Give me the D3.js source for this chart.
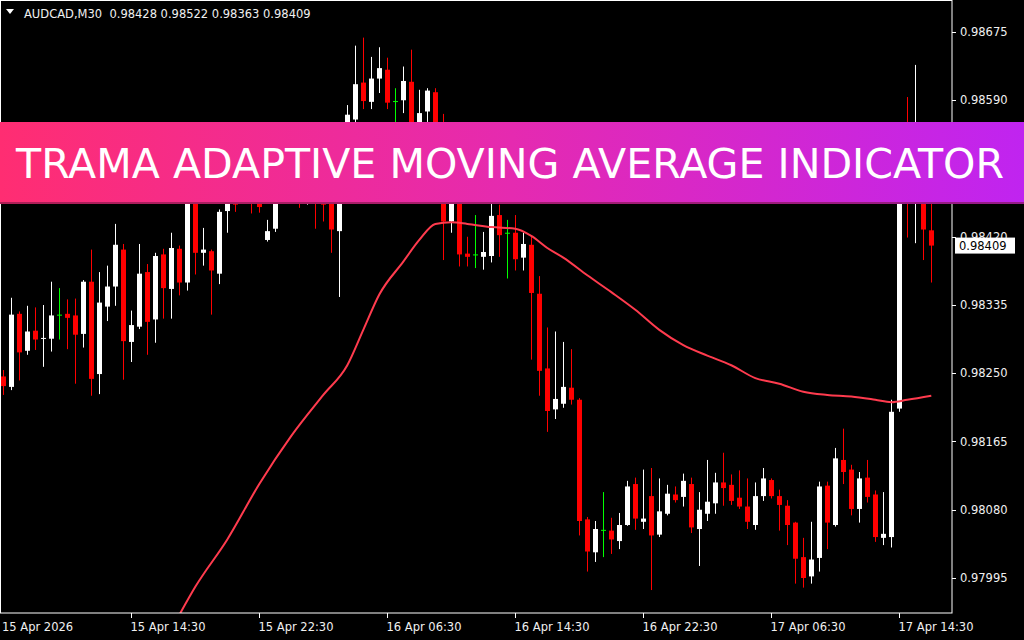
<!DOCTYPE html>
<html>
<head>
<meta charset="utf-8">
<title>AUDCAD M30 - TRAMA</title>
<script src="https://cdn.jsdelivr.net/npm/d3@7"></script>
<style>
  body { margin: 0; background: #000; }
  svg { display: block; background: #000; }
  text { font-family: "DejaVu Sans", "Liberation Sans", sans-serif; }
</style>
</head>
<body>
<svg id="chart" width="1024" height="640"></svg>
<script>
// M30 bars, 15 Apr 06:30 .. 17 Apr 15:30 (prices in 1e-5)
var opens = [98246,98233,98324,98278,98303,98293,98293,98323,98324,98322,98299,98364,98249,98333,98358,98404,98289,98308,98376,98317,
  98398,98355,98405,98363,98472,98400,98402,98374,98452,98497,98472,98491,98472,98416,98430,98472,98497,98485,98466,98491,
  98478,98503,98427,98528,98566,98612,98588,98617,98628,98589,98590,98613,98528,98576,98600,98510,98439,98478,98399,98398,
  98395,98396,98447,98425,98425,98394,98410,98349,98256,98205,98212,98232,98217,98068,98027,98055,98054,98041,98061,98112,
  98065,98097,98049,98075,98099,98096,98112,98056,98075,98088,98114,98111,98095,98084,98061,98097,98117,98097,98085,98064,
  98021,97997,98020,98110,98061,98142,98130,98081,98120,98099,98045,98046,98206,98497,98466,98478,98428];
var highs = [98254,98344,98327,98334,98332,98335,98364,98356,98342,98343,98366,98404,98376,98384,98436,98411,98328,98411,98386,98400,
  98405,98425,98409,98491,98485,98431,98404,98454,98510,98516,98503,98510,98485,98441,98485,98510,98510,98497,98503,98503,
  98497,98516,98541,98584,98658,98668,98644,98656,98643,98605,98632,98653,98603,98605,98605,98573,98503,98491,98420,98447,
  98426,98461,98460,98441,98447,98425,98420,98371,98307,98302,98289,98280,98219,98071,98066,98102,98070,98076,98116,98120,
  98130,98132,98119,98111,98109,98125,98120,98102,98142,98126,98151,98124,98129,98119,98114,98132,98119,98105,98092,98065,
  98045,98065,98115,98115,98157,98181,98136,98127,98142,98104,98102,98217,98541,98594,98634,98503,98522];
var lows = [98223,98229,98241,98273,98279,98258,98277,98292,98280,98237,98282,98222,98224,98315,98334,98242,98264,98305,98273,98288,
  98318,98318,98347,98353,98373,98384,98323,98361,98425,98451,98462,98449,98450,98414,98426,98466,98464,98456,98460,98430,
  98439,98400,98345,98516,98559,98579,98579,98599,98579,98553,98574,98516,98516,98563,98503,98391,98425,98383,98383,98381,
  98379,98388,98395,98368,98378,98378,98267,98222,98177,98193,98207,98211,98048,98003,98015,98021,98025,98031,98060,98055,
  98056,97980,98046,98073,98089,98084,98051,98010,98066,98075,98085,98086,98081,98056,98055,98091,98094,98054,98036,97988,
  97983,97988,98003,98031,98059,98112,98073,98064,98089,98040,98036,98033,98202,98419,98412,98391,98363];
var closes = [98234,98323,98276,98302,98292,98294,98322,98323,98319,98298,98364,98243,98338,98358,98410,98290,98310,98374,98314,98396,
  98356,98406,98363,98478,98400,98404,98378,98451,98491,98460,98491,98466,98457,98427,98472,98497,98472,98466,98485,98466,
  98460,98429,98528,98572,98610,98589,98617,98630,98587,98589,98614,98528,98574,98602,98516,98439,98491,98398,98395,98398,
  98401,98446,98422,98425,98392,98411,98350,98253,98203,98218,98233,98217,98066,98028,98056,98055,98043,98061,98109,98069,
  98069,98048,98078,98100,98092,98116,98058,98080,98090,98114,98107,98091,98084,98065,98097,98119,98097,98086,98061,98019,
  97995,98018,98109,98064,98144,98127,98081,98119,98096,98046,98050,98202,98491,98472,98510,98429,98409];

// TRAMA line, sampled at bar index
var maIndex = [22,24,28,32,36,40,43,45,47,50,52,54,56,58,61,64,66,68,70,73,76,79,82,85,88,91,94,97,100,103,106,109,111,113,116];
var maValues = [97949,97984,98043,98112,98172,98223,98260,98304,98348,98389,98416,98436,98438,98436,98432,98430,98421,98406,98394,98372,
  98351,98329,98304,98285,98272,98260,98244,98237,98227,98223,98221,98217,98214,98217,98222];

var priceTicks = [0.98675, 0.98590, 0.98505, 0.98420, 0.98335, 0.98250, 0.98165, 0.98080, 0.97995];
var timeLabels = ["15 Apr 2026", "15 Apr 14:30", "15 Apr 22:30", "16 Apr 06:30", "16 Apr 14:30", "16 Apr 22:30", "17 Apr 06:30", "17 Apr 14:30"];
var timeIndex = [0, 16, 32, 48, 64, 80, 96, 112];

var svg = d3.select("#chart");
var W = 952, H = 613;

var x = d3.scaleLinear().domain([0, 116]).range([3.3, 931.3]);
var y = d3.scaleLinear().domain([0.97995, 0.98675]).range([578, 32]);
var p = function(v){ return y(v / 100000); };

var plot = svg.append("g");
plot.append("defs").append("clipPath").attr("id", "clip")
  .append("rect").attr("x", 0).attr("y", 0).attr("width", W).attr("height", H);
var marks = plot.append("g").attr("clip-path", "url(#clip)");

var bars = d3.range(opens.length).map(function(i){
  return {i: i, o: opens[i], h: highs[i], l: lows[i], c: closes[i]};
});
var col = function(d){ return d.c > d.o ? "#ffffff" : (d.c < d.o ? "#ff0000" : "#00ff00"); };

marks.selectAll("line.wick").data(bars).enter().append("line")
  .attr("x1", function(d){ return Math.round(x(d.i)) + 0.5; })
  .attr("x2", function(d){ return Math.round(x(d.i)) + 0.5; })
  .attr("y1", function(d){ return p(d.h); })
  .attr("y2", function(d){ return p(d.l); })
  .attr("stroke", col).attr("stroke-width", 1);

marks.selectAll("rect.body").data(bars).enter().append("rect")
  .attr("x", function(d){ return Math.round(x(d.i)) - 2; })
  .attr("width", 5)
  .attr("y", function(d){ return Math.min(p(d.o), p(d.c)); })
  .attr("height", function(d){ return Math.max(1, Math.abs(p(d.o) - p(d.c))); })
  .attr("fill", col);

var ma = maIndex.map(function(v, k){ return [x(v), p(maValues[k])]; });
marks.append("path").datum(ma)
  .attr("d", d3.line().curve(d3.curveMonotoneX))
  .attr("fill", "none").attr("stroke", "#ff3b4e").attr("stroke-width", 2);

// frame
svg.append("rect").attr("x", 0.5).attr("y", 0.5).attr("width", W - 0.5).attr("height", H - 0.5)
  .attr("fill", "none").attr("stroke", "#ffffff").attr("stroke-width", 1);

// price axis
var pa = svg.append("g");
priceTicks.forEach(function(t){
  pa.append("line").attr("x1", W).attr("x2", W + 4).attr("y1", Math.round(y(t)) + 0.5).attr("y2", Math.round(y(t)) + 0.5).attr("stroke", "#fff");
  pa.append("text").attr("x", 960).attr("y", y(t) + 4).attr("fill", "#f0f0f0").attr("font-size", 11.5).text(t.toFixed(5));
});
var last = closes[closes.length - 1] / 100000;
pa.append("rect").attr("x", 955).attr("y", y(last) - 8).attr("width", 60).attr("height", 16).attr("fill", "#fff");
pa.append("text").attr("x", 959).attr("y", y(last) + 4).attr("fill", "#000").attr("font-size", 11.5).text(last.toFixed(5));

// time axis
timeIndex.forEach(function(t, k){
  var tx = Math.round(x(t)) + 0.5;
  if (k > 0) svg.append("line").attr("x1", tx).attr("x2", tx).attr("y1", H).attr("y2", H + 5).attr("stroke", "#fff");
  svg.append("text").attr("x", k > 0 ? tx - 1 : 2).attr("y", 631).attr("fill", "#f0f0f0").attr("font-size", 11.5).text(timeLabels[k]);
});

// header
svg.append("path").attr("d", "M6,9 L14,9 L10,14 Z").attr("fill", "#fff");
svg.append("text").attr("x", 24).attr("y", 18).attr("fill", "#f0f0f0").attr("font-size", 11.5)
  .attr("xml:space", "preserve")
  .text("AUDCAD,M30  " + [opens, highs, lows, closes].map(function(a){ return (a[a.length - 1] / 100000).toFixed(5); }).join(" "));

// banner
var g = svg.append("defs").append("linearGradient").attr("id", "ban");
g.append("stop").attr("offset", "0%").attr("stop-color", "#ff2d72");
g.append("stop").attr("offset", "50%").attr("stop-color", "#e52ab0");
g.append("stop").attr("offset", "100%").attr("stop-color", "#c024f0");
svg.append("rect").attr("x", 0).attr("y", 122).attr("width", 1024).attr("height", 82).attr("fill", "url(#ban)");
svg.append("rect").attr("x", 0).attr("y", 202).attr("width", 1024).attr("height", 2).attr("fill", "#7a1545").attr("opacity", 0.6);
svg.append("text").attr("x", 510).attr("y", 178).attr("text-anchor", "middle")
  .attr("fill", "#fff").attr("font-family", "Montserrat, 'Open Sans', sans-serif").attr("font-weight", 500)
  .attr("font-size", 40).attr("textLength", 988).attr("lengthAdjust", "spacingAndGlyphs")
  .text("TRAMA ADAPTIVE MOVING AVERAGE INDICATOR");
</script>
</body>
</html>
